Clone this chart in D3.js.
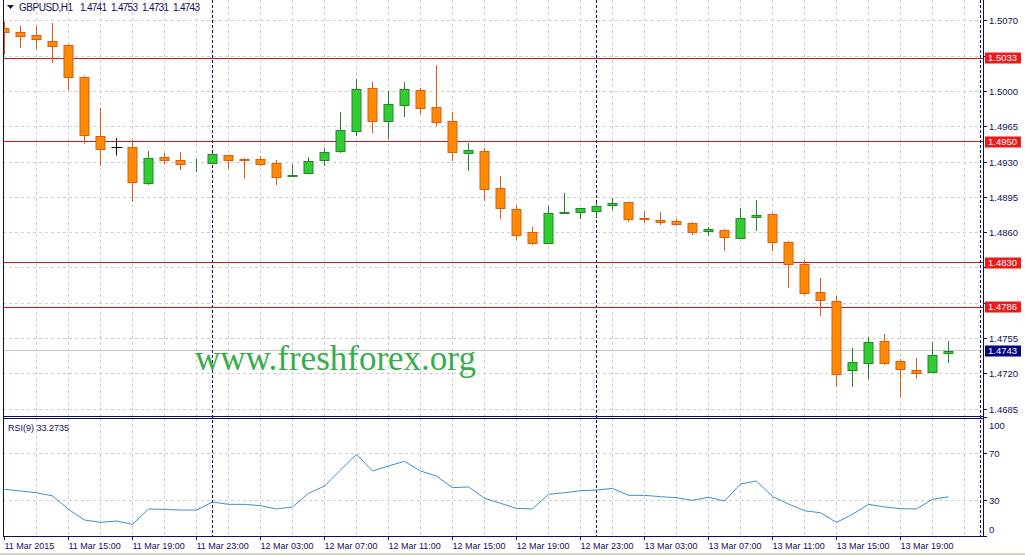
<!DOCTYPE html>
<html><head><meta charset="utf-8">
<script src="https://cdn.jsdelivr.net/npm/d3@7"></script>
<style>html,body{margin:0;padding:0;background:#fff;}svg{display:block;}</style>
</head><body>
<svg id="chart" width="1025" height="555"></svg>
<script>
// ---------- data ----------
const symbolTitle = "GBPUSD,H1";
const lastOHLC = ["1.4741", "1.4753", "1.4731", "1.4743"];
const startHour = new Date(2015, 2, 11, 11);   // first bar: 11 Mar 2015 11:00 (H1 bars)
const opens  = [1.50625,1.50591,1.50558,1.50502,1.50459,1.50145,1.49555,1.49442,1.49446,1.49095,
                1.49350,1.49317,1.49270,1.49293,1.49367,1.49327,1.49327,1.49287,1.49165,1.49188,
                1.49317,1.49406,1.49604,1.50030,1.49703,1.49862,1.50010,1.49842,1.49703,1.49386,
                1.49406,1.49040,1.48832,1.48604,1.48501,1.48795,1.48802,1.48812,1.48871,1.48901,
                1.48742,1.48726,1.48713,1.48693,1.48614,1.48623,1.48544,1.48752,1.48785,1.48508,
                1.48287,1.48012,1.47923,1.47236,1.47306,1.47524,1.47326,1.47236,1.47223,1.47410];
const highs  = [1.50690,1.50647,1.50650,1.50674,1.50470,1.50150,1.49838,1.49535,1.49518,1.49409,
                1.49392,1.49400,1.49327,1.49386,1.49373,1.49343,1.49360,1.49320,1.49280,1.49347,
                1.49436,1.49793,1.50122,1.50093,1.50004,1.50090,1.50030,1.50261,1.49793,1.49491,
                1.49436,1.49161,1.48871,1.48656,1.48864,1.48990,1.48848,1.48891,1.48941,1.48905,
                1.48815,1.48802,1.48738,1.48703,1.48656,1.48640,1.48847,1.48924,1.48792,1.48518,
                1.48329,1.48151,1.47973,1.47457,1.47569,1.47596,1.47346,1.47355,1.47520,1.47530];
const lows   = [1.50360,1.50427,1.50420,1.50278,1.50013,1.49475,1.49264,1.49370,1.48907,1.49072,
                1.49280,1.49220,1.49204,1.49280,1.49234,1.49129,1.49260,1.49072,1.49155,1.49188,
                1.49264,1.49392,1.49561,1.49584,1.49528,1.49749,1.49776,1.49660,1.49310,1.49214,
                1.48917,1.48732,1.48527,1.48481,1.48495,1.48785,1.48738,1.48752,1.48827,1.48706,
                1.48699,1.48679,1.48666,1.48577,1.48570,1.48421,1.48540,1.48620,1.48418,1.48055,
                1.47980,1.47777,1.47074,1.47074,1.47147,1.47292,1.46969,1.47147,1.47207,1.47310];
const closes = [1.50585,1.50548,1.50516,1.50449,1.50139,1.49565,1.49426,1.49441,1.49105,1.49337,
                1.49323,1.49277,1.49272,1.49376,1.49317,1.49317,1.49277,1.49155,1.49171,1.49307,
                1.49396,1.49614,1.50020,1.49709,1.49872,1.50020,1.49832,1.49693,1.49396,1.49419,
                1.49030,1.48841,1.48574,1.48495,1.48792,1.48808,1.48841,1.48861,1.48891,1.48732,
                1.48738,1.48703,1.48683,1.48604,1.48636,1.48554,1.48742,1.48775,1.48511,1.48290,
                1.48000,1.47930,1.47197,1.47316,1.47514,1.47312,1.47246,1.47213,1.47388,1.47430];
const rsiValues = [39.6,38.2,36.7,34.0,22.7,13.7,11.7,12.8,10.0,23.0,
                   22.7,22.1,22.1,28.9,26.9,26.9,25.8,23.0,24.7,36.2,
                   42.4,55.9,69.2,55.1,59.3,63.2,55.1,50.8,41.0,41.6,
                   32.0,27.8,23.5,23.0,35.4,36.7,38.4,39.0,40.4,34.5,
                   34.5,33.4,32.5,30.3,32.9,29.7,44.1,46.6,33.4,27.2,
                   21.5,19.8,11.7,18.5,26.9,24.7,23.2,23.0,31.2,33.2735];
const rsiTitle = "RSI(9) 33.2735";
const priceTicks = [1.5070,1.5035,1.5000,1.4965,1.4930,1.4895,1.4860,1.4825,1.4790,1.4755,1.4720,1.4685];
const levelLines = [1.5033, 1.4950, 1.4830, 1.4786];
const bidPrice = 1.4743;
const rsiTicks = [100, 70, 30, 0];
const rsiGrid = [70, 30];
const timeLabels = ["11 Mar 2015","11 Mar 15:00","11 Mar 19:00","11 Mar 23:00","12 Mar 03:00","12 Mar 07:00",
                    "12 Mar 11:00","12 Mar 15:00","12 Mar 19:00","12 Mar 23:00","13 Mar 03:00","13 Mar 07:00",
                    "13 Mar 11:00","13 Mar 15:00","13 Mar 19:00"];
const timeLabelHours = [0,4,8,12,16,20,24,28,32,36,40,44,48,52,56]; // hours after first bar
const daySeparatorHours = [13, 37];   // 12 Mar 00:00, 13 Mar 00:00
const watermark = "www.freshforex.org";

// ---------- layout ----------
const W = 1025, H = 555;
const L = 3, R = 984, mainTop = 0, mainBottom = 416, rsiTop = 418, rsiBottom = 536;
const navy = "#0b0b6e", textNavy = "#10105e";
const fontF = "'Liberation Sans', Arial, sans-serif";

const bars = opens.map((o, i) => ({
  t: d3.timeHour.offset(startHour, i), o, h: highs[i], l: lows[i], c: closes[i], rsi: rsiValues[i]
}));
const endT = d3.timeHour.offset(startHour, 59);
const x = d3.scaleTime().domain([startHour, endT]).range([4.5, 948.5]);
const y = d3.scaleLinear().domain([1.5070, 1.4685]).range([20.7, 409.3]);
const yr = d3.scaleLinear().domain([0, 100]).range([536.2, 417.8]);
const px = v => Math.round(v - 0.5) + 0.5;

const svg = d3.select("#chart");
svg.append("rect").attr("width", W).attr("height", H).attr("fill", "#fff");
const defs = svg.append("defs");
defs.append("clipPath").attr("id", "clipMain").append("rect")
  .attr("x", L + 0.5).attr("y", mainTop).attr("width", R - L - 1).attr("height", mainBottom - mainTop);
defs.append("clipPath").attr("id", "clipRsi").append("rect")
  .attr("x", L + 0.5).attr("y", rsiTop + 1).attr("width", R - L - 1).attr("height", rsiBottom - rsiTop - 1);

// vertical grid (every 2 bars)
const gridHours = d3.range(2, 61, 2);
const gv = svg.append("g").attr("stroke", "#cfcfcf").attr("stroke-dasharray", "3,3").attr("stroke-width", 1);
gridHours.forEach(hh => {
  const gx = px(x(d3.timeHour.offset(startHour, hh)));
  if (gx < 980) {
    gv.append("line").attr("x1", gx).attr("x2", gx).attr("y1", mainTop).attr("y2", mainBottom);
    gv.append("line").attr("x1", gx).attr("x2", gx).attr("y1", rsiTop).attr("y2", rsiBottom);
  }
});
// horizontal grid main
priceTicks.forEach(p => {
  gv.append("line").attr("x1", L).attr("x2", 980).attr("y1", px(y(p))).attr("y2", px(y(p)));
});
rsiGrid.forEach(v => {
  gv.append("line").attr("x1", L).attr("x2", 980).attr("y1", px(yr(v))).attr("y2", px(yr(v)));
});

// bid line
svg.append("line").attr("x1", L).attr("x2", 983).attr("y1", px(y(bidPrice))).attr("y2", px(y(bidPrice)))
  .attr("stroke", "#c8c8c8").attr("stroke-width", 1);

// day separators
daySeparatorHours.forEach(hh => {
  const sx = px(x(d3.timeHour.offset(startHour, hh)));
  svg.append("line").attr("x1", sx).attr("x2", sx).attr("y1", mainTop).attr("y2", rsiBottom)
    .attr("stroke", navy).attr("stroke-dasharray", "3,2").attr("stroke-width", 1);
});

// level lines
levelLines.forEach(p => {
  svg.append("line").attr("x1", L).attr("x2", 983).attr("y1", px(y(p))).attr("y2", px(y(p)))
    .attr("stroke", "#d01818").attr("stroke-width", 1.2);
});

// watermark
svg.append("text").attr("x", 195).attr("y", 370).text(watermark)
  .attr("font-family", "'Liberation Serif', 'Times New Roman', serif").attr("font-size", 35)
  .attr("fill", "#36ad4a");

// candles
const bull = { fill: "#32cd32", stroke: "#23872a" };
const bear = { fill: "#ff8c00", stroke: "#e05a14" };
const cg = svg.append("g").attr("clip-path", "url(#clipMain)");
bars.forEach(b => {
  const cx = px(x(b.t));
  const col = b.c >= b.o ? bull : bear;
  const yTop = y(Math.max(b.o, b.c)), yBot = y(Math.min(b.o, b.c));
  cg.append("line").attr("x1", cx).attr("x2", cx).attr("y1", Math.round(y(b.h))).attr("y2", Math.round(y(b.l)))
    .attr("stroke", col.stroke).attr("stroke-width", 1);
  const t0 = Math.round(yTop) + 0.5;
  const hgt = Math.max(0, Math.round(yBot) - Math.round(yTop));
  cg.append("rect").attr("x", cx - 4.5).attr("y", t0).attr("width", 9).attr("height", hgt)
    .attr("fill", col.fill).attr("stroke", col.stroke).attr("stroke-width", 1);
});
// mouse cursor cross (over the 11 Mar 18:00 bar)
const curBar = bars[7];
const ccx = px(x(curBar.t)), ccy = px(y(curBar.c));
svg.append("line").attr("x1", ccx - 5).attr("x2", ccx + 6).attr("y1", ccy).attr("y2", ccy).attr("stroke", "#000");
svg.append("line").attr("x1", ccx).attr("x2", ccx).attr("y1", ccy - 9).attr("y2", ccy + 8).attr("stroke", "#000");

// RSI line
svg.append("g").attr("clip-path", "url(#clipRsi)").append("path")
  .datum(bars)
  .attr("d", d3.line().x(d => x(d.t)).y(d => yr(d.rsi)))
  .attr("fill", "none").attr("stroke", "#3b8fd0").attr("stroke-width", 1);

// panel borders
const bg = svg.append("g").attr("stroke", navy).attr("stroke-width", 1);
bg.append("line").attr("x1", 3.5).attr("x2", 3.5).attr("y1", 0).attr("y2", rsiBottom + 0.5);
bg.append("line").attr("x1", 983.5).attr("x2", 983.5).attr("y1", 0).attr("y2", rsiBottom + 0.5);
bg.append("line").attr("x1", 980.5).attr("x2", 980.5).attr("y1", 0).attr("y2", rsiBottom)
  .attr("stroke-dasharray", "3,2");
bg.append("line").attr("x1", 3).attr("x2", 984).attr("y1", mainBottom + 0.5).attr("y2", mainBottom + 0.5);
bg.append("line").attr("x1", 3).attr("x2", 984).attr("y1", rsiTop + 0.5).attr("y2", rsiTop + 0.5);
bg.append("line").attr("x1", 3).attr("x2", 984).attr("y1", rsiBottom + 0.5).attr("y2", rsiBottom + 0.5);

// right price axis (labels hidden behind a level/bid tag are not drawn, as in the reference)
const tagPrices = levelLines.concat([bidPrice]);
const ax = svg.append("g").attr("font-family", fontF).attr("font-size", 9.5).attr("fill", textNavy);
priceTicks.forEach(p => {
  const ty = px(y(p));
  ax.append("line").attr("x1", 984).attr("x2", 987).attr("y1", ty).attr("y2", ty).attr("stroke", navy);
  const covered = tagPrices.some(tp => Math.abs(y(tp) - y(p)) < 11);
  if (!covered) ax.append("text").attr("x", 989).attr("y", ty).attr("dy", "0.35em").text(p.toFixed(4));
});
rsiTicks.forEach(v => {
  const ty = px(Math.min(529, Math.max(425, yr(v))));
  ax.append("line").attr("x1", 984).attr("x2", 987).attr("y1", px(yr(v))).attr("y2", px(yr(v))).attr("stroke", navy);
  ax.append("text").attr("x", 989).attr("y", ty).attr("dy", "0.35em").text(String(v));
});
// level tags
levelLines.forEach(p => {
  const ty = y(p);
  ax.append("rect").attr("x", 985).attr("y", Math.round(ty) - 5.5).attr("width", 36).attr("height", 11).attr("fill", "#f01818");
  ax.append("text").attr("x", 988).attr("y", Math.round(ty)).attr("dy", "0.35em").attr("fill", "#fff").text(p.toFixed(4));
});
// bid tag
{
  const ty = y(bidPrice);
  ax.append("rect").attr("x", 985).attr("y", Math.round(ty) - 5.5).attr("width", 36).attr("height", 11).attr("fill", "#000080");
  ax.append("text").attr("x", 988).attr("y", Math.round(ty)).attr("dy", "0.35em").attr("fill", "#fff").text(bidPrice.toFixed(4));
}

// bottom time axis
const tx = svg.append("g").attr("font-family", fontF).attr("font-size", 9).attr("fill", textNavy);
timeLabels.forEach((lab, k) => {
  const lx = px(x(d3.timeHour.offset(startHour, timeLabelHours[k])));
  tx.append("line").attr("x1", lx).attr("x2", lx).attr("y1", rsiBottom).attr("y2", rsiBottom + 4).attr("stroke", navy);
  tx.append("text").attr("x", lx).attr("y", 549).text(lab);
});
svg.append("rect").attr("x", 0).attr("y", 553).attr("width", W).attr("height", 2).attr("fill", "#d4d0c8");

// header
svg.append("path").attr("d", "M7,5 L14,5 L10.5,9 Z").attr("fill", navy);
const hdr = svg.append("g").attr("font-family", fontF).attr("font-size", 10).attr("fill", textNavy);
hdr.append("text").attr("x", 19).attr("y", 11).attr("textLength", 54).text(symbolTitle);
lastOHLC.forEach((v, k) => {
  hdr.append("text").attr("x", 80 + 31 * k).attr("y", 11).attr("textLength", 27).text(v);
});
svg.append("text").attr("x", 8).attr("y", 431).attr("font-family", fontF).attr("font-size", 9)
  .attr("fill", textNavy).text(rsiTitle);
</script>
</body></html>
